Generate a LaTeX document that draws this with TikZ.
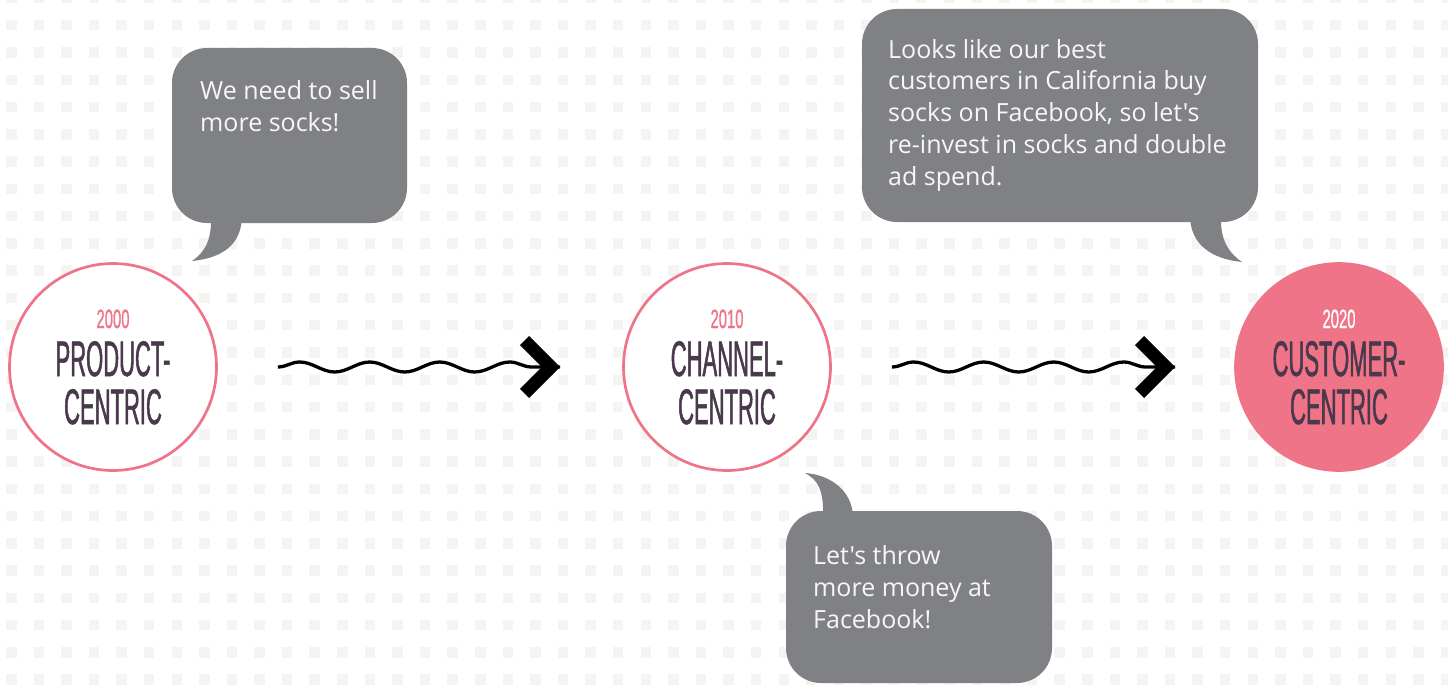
\documentclass[tikz,border=0pt]{standalone}
\usepackage{fontspec}
\setmainfont{Open Sans}
\newfontfamily\saysans{Open Sans}
\newfontfamily\condfont[FakeStretch=0.44,FakeBold=1]{Liberation Sans}
\newfontfamily\yearfont[FakeStretch=0.56,FakeBold=0.6]{Liberation Sans}
\newcommand\stageyear[2]{{\yearfont\fontsize{26.5}{48}\selectfont\color{#1}#2}}
\usetikzlibrary{decorations.pathmorphing,decorations.markings,calc}
\definecolor{rose}{RGB}{239,116,135}
\definecolor{plum}{RGB}{74,57,76}
\definecolor{bubble}{RGB}{128,129,133}
\definecolor{dotgrey}{RGB}{246,244,242}
\definecolor{saywhite}{RGB}{247,247,247}
\begin{document}
\begin{tikzpicture}[x=1pt,y=-1pt,
  stage/.style={circle, draw=rose, line width=2.7, fill=white, minimum size=207, inner sep=0, align=center, text=plum, font=\condfont\fontsize{50}{48}\selectfont},
  saybox/.style={fill=bubble, rounded corners=35},
  saytext/.style={anchor=base west, align=left, inner sep=0, text=saywhite, font=\saysans\fontsize{25}{31.7}\selectfont},
  wave/.style={line width=3.3, decorate, decoration={snake, segment length=70pt, amplitude=5pt},
    postaction={decorate, decoration={markings, mark=at position 1 with {\fill (0,0) -- (-31,-31) -- (-40.2,-21.8) -- (-18.4,0) -- (-40.2,21.8) -- (-31,31) -- cycle;}}}}]
\useasboundingbox (0,0) rectangle (1448,685);
\fill[white] (0,0) rectangle (1448,685);
% dotted backdrop
\foreach \i in {0,...,52}
  \foreach \j in {-1,...,24}
    \fill[dotgrey] (6+27.59*\i,20+27.27*\j) rectangle ++(10.5,10.5);

% stages
\node[stage] (prod) at (113,367) {\stageyear{rose}{2000}\\PRODUCT-\\CENTRIC};
\node[stage] (chan) at (727,367) {\stageyear{rose}{2010}\\CHANNEL-\\CENTRIC};
\node[stage, fill=rose] (cust) at (1339,367) {\stageyear{white}{2020}\\CUSTOMER-\\CENTRIC};

\draw[wave] ($(prod.east)+(60,0)$) -- ($(chan.west)+(-62,0)$);
\draw[wave] ($(chan.east)+(60,0)$) -- ($(cust.west)+(-59,0)$);

% speech bubbles (text anchored on last baseline)
\fill[saybox] (172,48) rectangle (407,223);
\fill[bubble] (242,215) .. controls (242,245) and (222,258) .. (192,261) .. controls (205,252) and (212,240) .. (211,215) -- cycle;
\node[saytext] (say1) at (200,131) {We need to sell\\more socks!};

\fill[saybox] (862,9) rectangle (1258,222);
\fill[bubble] (1190,215) .. controls (1190,245) and (1212,259) .. (1242,262) .. controls (1228,252) and (1220,240) .. (1221,215) -- cycle;
\node[saytext] (say2) at (888,185) {Looks like our best\\customers in California buy\\socks on Facebook, so let's\\re-invest in socks and double\\ad spend.};

\fill[saybox] (786,511) rectangle (1052,683);
\fill[bubble] (853,518) .. controls (853,492) and (832,475) .. (805,473) .. controls (818,480) and (824,490) .. (823,518) -- cycle;
\node[saytext] (say3) at (813,628) {Let's throw\\more money at\\Facebook!};
\end{tikzpicture}
\end{document}
